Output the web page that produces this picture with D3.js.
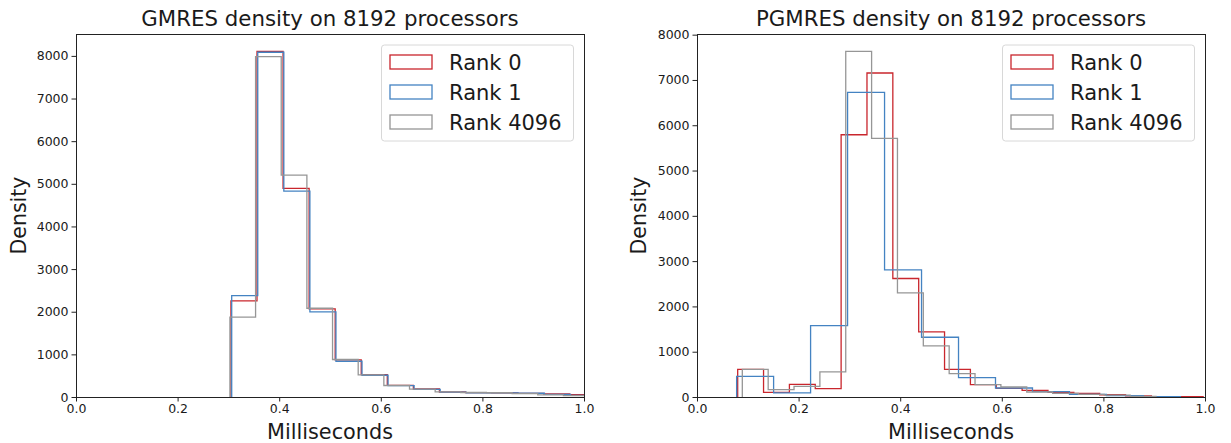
<!DOCTYPE html>
<html>
<head>
<meta charset="utf-8">
<script src="https://cdn.jsdelivr.net/npm/d3@7"></script>
<style>
  body { margin: 0; background: #fff; }
  text { font-family: "DejaVu Sans", sans-serif; fill: #1a1a1a; }
</style>
</head>
<body>
<div id="chart"></div>
<script>
// series labels + colours
var seriesNames = ["Rank 0", "Rank 1", "Rank 4096"];
var seriesColors = ["#c9262d", "#4483c2", "#969696"];

// GMRES panel: histogram bins (start, width) and density per bin
var gmresStart = [0.305, 0.3065, 0.303];
var gmresWidth = [0.0513, 0.0513, 0.0505];
var gmresRank0 = [2254, 8108, 4891, 2066, 869, 524, 274, 188, 117, 101, 98, 86, 70, 55];
var gmresRank1 = [2378, 8085, 4830, 1996, 838, 510, 265, 180, 115, 100, 95, 88, 60, 40];
var gmresRank4096 = [1871, 7983, 5205, 2082, 880, 520, 270, 185, 120, 105, 100, 80, 50, 30];

// PGMRES panel
var pgmresStart = [0.0801, 0.078, 0.0892];
var pgmresWidth = [0.0509, 0.0728, 0.0509];
var pgmresRank0 = [612, 104, 280, 185, 5790, 7154, 2616, 1437, 612, 273, 190, 148, 104, 80, 50, 25, 10, 5];
var pgmresRank1 = [457, 89, 1577, 6727, 2807, 1319, 428, 199, 119, 60, 30, 10];
var pgmresRank4096 = [612, 163, 236, 553, 7633, 5711, 2299, 1128, 516, 273, 221, 110, 80, 60, 40, 15];

var xTicks = [0, 0.2, 0.4, 0.6, 0.8, 1.0];
var yTicks = [0, 1000, 2000, 3000, 4000, 5000, 6000, 7000, 8000];

var width = 1231, height = 443;
var svg = d3.select("#chart").append("svg")
    .attr("width", width)
    .attr("height", height);

function drawPanel(p) {
  var x = d3.scaleLinear().domain([0, 1]).range([p.left, p.right]);
  var ymax = d3.max(p.series, function(s) { return d3.max(s); }) * 1.05;
  var y = d3.scaleLinear().domain([0, ymax]).range([p.bottom, p.top]);

  var g = svg.append("g");
  var clipId = "clip" + p.id;
  g.append("clipPath").attr("id", clipId)
    .append("rect")
    .attr("x", p.left).attr("y", p.top)
    .attr("width", p.right - p.left).attr("height", p.bottom - p.top);

  // step histograms
  var line = d3.line().x(function(d) { return x(d[0]); }).y(function(d) { return y(d[1]); });
  p.series.forEach(function(vals, i) {
    var pts = [];
    var s = p.start[i], w = p.width[i];
    pts.push([s, 0]);
    vals.forEach(function(v, k) {
      pts.push([s + k * w, v]);
      pts.push([s + (k + 1) * w, v]);
    });
    pts.push([s + vals.length * w, 0]);
    g.append("path")
      .attr("clip-path", "url(#" + clipId + ")")
      .attr("d", line(pts))
      .attr("fill", "none")
      .attr("stroke", seriesColors[i])
      .attr("stroke-width", 1.3);
  });

  // axes
  var xAxis = d3.axisBottom(x).tickValues(xTicks).tickFormat(d3.format(".1f")).tickSize(4.5).tickPadding(3);
  var yAxis = d3.axisLeft(y).tickValues(yTicks).tickFormat(d3.format("d")).tickSize(4.5).tickPadding(3);
  var gx = g.append("g").attr("transform", "translate(0," + p.bottom + ")").call(xAxis);
  var gy = g.append("g").attr("transform", "translate(" + p.left + ",0)").call(yAxis);
  [gx, gy].forEach(function(a) {
    a.select(".domain").remove();
    a.selectAll(".tick line").attr("stroke", "#222");
    a.selectAll(".tick text")
      .style("font-family", "DejaVu Sans")
      .style("font-size", "12.5px")
      .attr("fill", "#222");
  });

  // frame
  g.append("rect")
    .attr("x", p.left + 0.5).attr("y", p.top + 0.5)
    .attr("width", p.right - p.left).attr("height", p.bottom - p.top)
    .attr("fill", "none").attr("stroke", "#222").attr("stroke-width", 1);

  // title and labels
  g.append("text")
    .attr("x", (p.left + p.right) / 2).attr("y", 26)
    .attr("text-anchor", "middle")
    .style("font-size", "21.3px")
    .text(p.title);
  g.append("text")
    .attr("x", (p.left + p.right) / 2).attr("y", 439)
    .attr("text-anchor", "middle")
    .style("font-size", "20.8px")
    .text("Milliseconds");
  g.append("text")
    .attr("transform", "translate(" + p.ylabelX + "," + ((p.top + p.bottom) / 2) + ") rotate(-90)")
    .attr("text-anchor", "middle")
    .style("font-size", "20.5px")
    .text("Density");

  // legend
  var lx = p.right - 203, ly = p.top + 10.5;
  var lg = g.append("g").attr("transform", "translate(" + lx + "," + ly + ")");
  lg.append("rect")
    .attr("x", 0.5).attr("y", 0.5).attr("width", 192).attr("height", 96)
    .attr("rx", 3)
    .attr("fill", "#fff").attr("fill-opacity", 0.8)
    .attr("stroke", "#d8d8d8");
  seriesNames.forEach(function(name, i) {
    var cy = 17.5 + i * 30;
    lg.append("rect")
      .attr("x", 9).attr("y", cy - 7).attr("width", 42).attr("height", 14)
      .attr("fill", "none").attr("stroke", seriesColors[i]).attr("stroke-width", 1.3);
    lg.append("text")
      .attr("x", 68).attr("y", cy + 7.5)
      .style("font-size", "21px")
      .text(name);
  });
}

drawPanel({
  id: "a", left: 76, right: 584, top: 34, bottom: 397, ylabelX: 26,
  title: "GMRES density on 8192 processors",
  series: [gmresRank0, gmresRank1, gmresRank4096],
  start: gmresStart, width: gmresWidth
});

drawPanel({
  id: "b", left: 697, right: 1205, top: 34, bottom: 397, ylabelX: 646,
  title: "PGMRES density on 8192 processors",
  series: [pgmresRank0, pgmresRank1, pgmresRank4096],
  start: pgmresStart, width: pgmresWidth
});
</script>
</body>
</html>
